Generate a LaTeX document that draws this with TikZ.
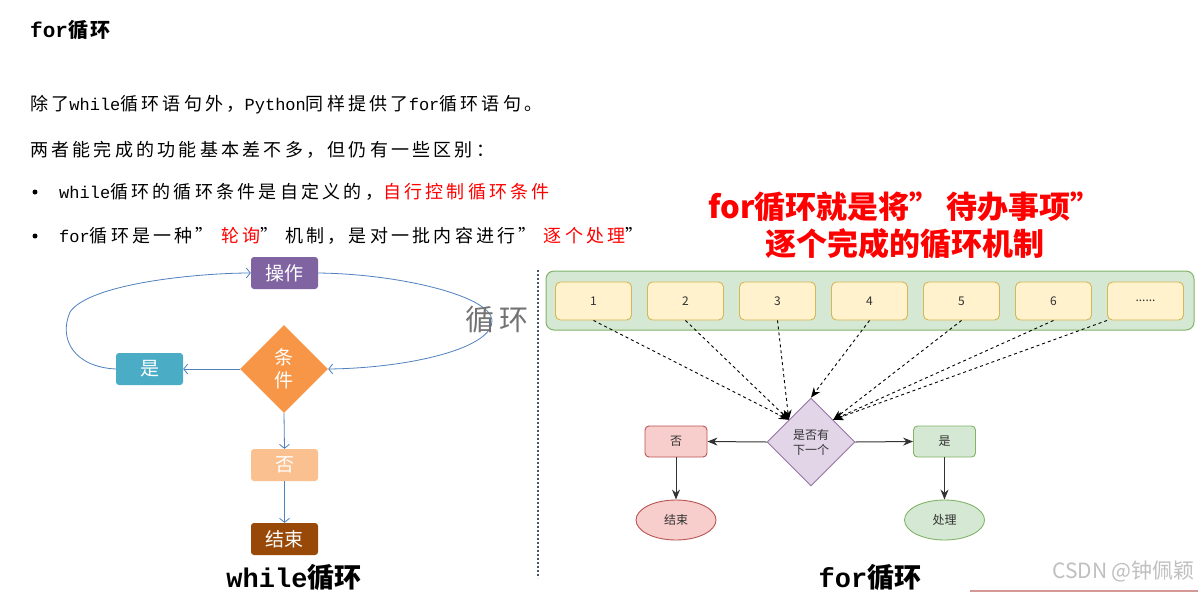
\documentclass[tikz,border=0pt]{standalone}
\usepackage{fontspec}
\setmainfont{Noto Sans CJK SC}
\newfontfamily\monof{Liberation Mono}
\usetikzlibrary{arrows.meta,shapes.geometric}
\definecolor{opPurple}{HTML}{8064A2}
\definecolor{condOrange}{HTML}{F79646}
\definecolor{yesTeal}{HTML}{4BACC6}
\definecolor{noPeach}{HTML}{FAC090}
\definecolor{endBrown}{HTML}{984807}
\definecolor{flowBlue}{HTML}{4F81BD}
\definecolor{hlRed}{HTML}{FF0000}
\definecolor{grpFill}{HTML}{D5E8D4}
\definecolor{grpLine}{HTML}{82B366}
\definecolor{itemFill}{HTML}{FFF2CC}
\definecolor{itemLine}{HTML}{D6B656}
\definecolor{decFill}{HTML}{E1D5E7}
\definecolor{decLine}{HTML}{9673A6}
\definecolor{redFill}{HTML}{F8CECC}
\definecolor{redLine}{HTML}{B85450}
\definecolor{sepLine}{HTML}{44546A}
\definecolor{txtDark}{HTML}{333333}
\newcommand\bodyf{\fontsize{18}{22}\selectfont\addfontfeature{LetterSpace=18}}
\newcommand\latf{\monof\fontsize{17}{22}\selectfont}
\newcommand\myrq{”\hspace{7pt}}
\tikzset{
  bodytext/.style={inner sep=0pt, anchor=west, text=black, font=\bodyf},
  bulletdot/.style={circle, fill=black, inner sep=0pt, minimum size=5pt},
  wbox/.style={rectangle, rounded corners=3pt, minimum width=67pt, minimum height=32pt, inner sep=0pt, text=white, font=\fontsize{19}{22}\selectfont},
  warr/.style={draw=flowBlue, line width=0.8pt, -{Straight Barb[length=4pt,width=10pt]}},
  item/.style={rectangle, rounded corners=5pt, draw=itemLine, fill=itemFill, line width=0.9pt, minimum width=76pt, minimum height=38pt, inner sep=0pt, font=\fontsize{12}{14}\selectfont, text=txtDark},
  smallbox/.style={rectangle, rounded corners=4pt, line width=0.9pt, minimum width=62pt, minimum height=31pt, inner sep=0pt, font=\fontsize{12}{14}\selectfont, text=txtDark},
  oval/.style={ellipse, line width=0.9pt, minimum width=80pt, minimum height=40pt, inner sep=0pt, font=\fontsize{12}{14}\selectfont, text=txtDark},
  darr/.style={draw=black, line width=0.9pt, dash pattern=on 3pt off 3pt, -{Stealth[length=10pt,width=8pt]}},
  sarr/.style={draw=black!80, line width=1pt, -{Stealth[length=10pt,width=8pt]}},
  bottomlab/.style={inner sep=0pt, font=\bfseries\fontsize{27}{30}\selectfont, anchor=south}
}
\begin{document}
\begin{tikzpicture}[x=1pt,y=-1pt]
\useasboundingbox[fill=white] (0,0) rectangle (1198,592);

% ---------- text block ----------
\node[bodytext, font=\bfseries\fontsize{20}{24}\selectfont\addfontfeature{LetterSpace=14}] (title) at (30,30) {{\monof\bfseries\fontsize{21}{24}\selectfont for}循环};
\node[bodytext] (l1) at (30,105) {除了{\latf while}循环语句外，{\latf Python}同样提供了{\latf for}循环语句。};
\node[bodytext] (l2) at (30,150) {两者能完成的功能基本差不多，但仍有一些区别：};
\node[bulletdot] (bu1) at (35,192) {};
\node[bodytext] (l3) at (59,192) {{\latf while}循环的循环条件是自定义的，\textcolor{hlRed}{自行控制循环条件}};
\node[bulletdot] (bu2) at (35,236) {};
\node[bodytext] (l4) at (59,236) {{\latf for}循环是一种\myrq\textcolor{hlRed}{轮询}\myrq 机制，是对一批内容进行\myrq\textcolor{hlRed}{逐个处理}”};

% ---------- heading right ----------
\node[inner sep=0pt, text=hlRed, font=\bfseries\fontsize{31}{37}\selectfont, align=center] (head) at (905,225) {for循环就是将”\,待办事项”\\逐个完成的循环机制};

% ---------- while diagram ----------
\node[wbox, fill=opPurple] (op) at (284.5,273) {操作};
\node[diamond, aspect=1, fill=condOrange, minimum width=88pt, minimum height=88pt, inner sep=0pt, text=white, font=\fontsize{19}{23}\selectfont, align=center] (cond) at (284,369) {条\\件};
\node[wbox, fill=yesTeal] (yes) at (149.5,369) {是};
\node[wbox, fill=noPeach] (no) at (284.5,465) {否};
\node[wbox, fill=endBrown] (end) at (284.5,539) {结束};
\draw[warr] (cond.west) -- (yes.east);
\draw[warr] (cond.south) -- (no.north);
\draw[warr] (no.south) -- (end.north);
\draw[warr] (yes.west) .. controls (75,367) and (58,340) .. (70,312) .. controls (90,283) and (200,273) .. (op.west);
\draw[warr] (op.east) .. controls (400,274) and (490,296) .. (492,320) .. controls (494,348) and (410,368) .. (cond.east);
\node[inner sep=0pt, text=black!55, font=\fontsize{29}{32}\selectfont] (loopl) at (497,320) {循\,环};
\node[bottomlab] (wlab) at (294,591) {{\monof\bfseries\fontsize{27}{30}\selectfont while}循环};

% separator
\coordinate (s1) at (538,270);
\coordinate (s2) at (538,578);
\draw[sepLine, line width=2pt, dash pattern=on 2pt off 2pt] (s1) -- (s2);

% ---------- for diagram ----------
\node[rectangle, rounded corners=8pt, draw=grpLine, fill=grpFill, line width=1pt, minimum width=648pt, minimum height=59pt] (grp) at (870,300.5) {};
\node[item] (b1) at (593.5,301) {1};
\node[item] (b2) at (685.5,301) {2};
\node[item] (b3) at (777.5,301) {3};
\node[item] (b4) at (869.5,301) {4};
\node[item] (b5) at (961.5,301) {5};
\node[item] (b6) at (1053.5,301) {6};
\node[item] (b7) at (1145.5,301) {......};
\node[diamond, aspect=1, draw=decLine, fill=decFill, line width=0.9pt, minimum width=88pt, minimum height=88pt, inner sep=0pt, font=\fontsize{12}{15}\selectfont, text=txtDark, align=center] (dec) at (811,442) {是否有\\下一个};
\node[smallbox, draw=redLine, fill=redFill] (fno) at (676,441.5) {否};
\node[smallbox, draw=grpLine, fill=grpFill] (fyes) at (944.5,441.5) {是};
\node[oval, draw=redLine, fill=redFill] (fend) at (676,520) {结束};
\node[oval, draw=grpLine, fill=grpFill] (fproc) at (944.5,520) {处理};
\draw[darr] (b1.south) -- (dec.north west);
\draw[darr] (b2.south) -- (dec.north west);
\draw[darr] (b3.south) -- (dec.north west);
\draw[darr] (b4.south) -- (dec.north);
\draw[darr] (b5.south) -- (dec.north east);
\draw[darr] (b6.south) -- (dec.north east);
\draw[darr] (b7.south west) -- (dec.north east);
\draw[sarr] (dec.west) -- (fno.east);
\draw[sarr] (dec.east) -- (fyes.west);
\draw[sarr] (fno.south) -- (fend.north);
\draw[sarr] (fyes.south) -- (fproc.north);
\node[bottomlab] (flab) at (870,591) {{\monof\bfseries\fontsize{27}{30}\selectfont for}循环};

% watermark and edge line
\node[inner sep=0pt, anchor=east, text=black!25, font=\fontsize{21}{24}\selectfont] (wm) at (1195,572) {CSDN @钟佩颖};
\coordinate (r1) at (970,591);
\coordinate (r2) at (1198,591);
\draw[redLine!60, line width=1.5pt] (r1) -- (r2);
\end{tikzpicture}
\end{document}
